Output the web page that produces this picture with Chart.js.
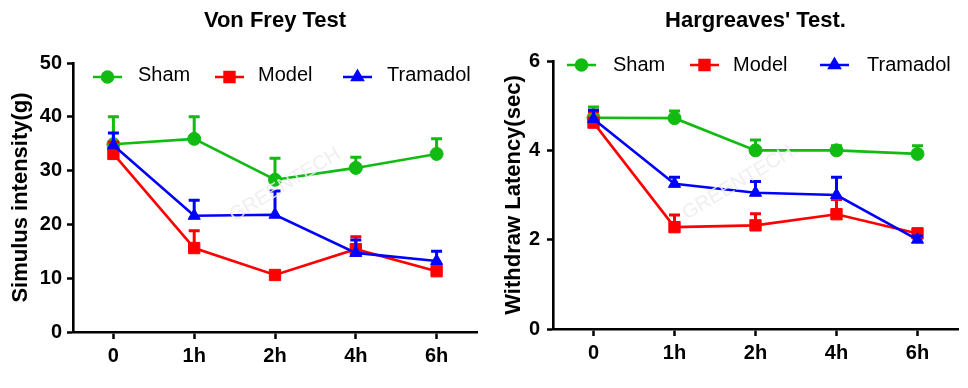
<!DOCTYPE html>
<html>
<head>
<meta charset="utf-8">
<script src="https://cdn.jsdelivr.net/npm/chart.js@4.4.1/dist/chart.umd.min.js"></script>
<style>
  html, body { margin: 0; padding: 0; background: #fff; }
  #wrap { position: relative; width: 968px; height: 388px; }
  #vonFrey { position: absolute; left: 0; top: 0; }
  #hargreaves { position: absolute; left: 490px; top: 0; }
</style>
</head>
<body>
<div id="wrap">
  <canvas id="vonFrey" width="490" height="388"></canvas>
  <canvas id="hargreaves" width="478" height="388"></canvas>
</div>
<script>
// categories
const timePoints = ["0", "1h", "2h", "4h", "6h"];
const groupNames = ["Sham", "Model", "Tramadol"];

// Von Frey test, mean and (upper) error
const vonFreySham = [34.9, 35.9, 28.3, 30.5, 33.1];
const vonFreyShamErr = [5.1, 4.1, 4.0, 2.0, 2.8];
const vonFreyModel = [33.1, 15.6, 10.6, 15.4, 11.3];
const vonFreyModelErr = [2.2, 3.2, 0.6, 2.3, 0.8];
const vonFreyTramadol = [34.7, 21.6, 21.8, 14.7, 13.2];
const vonFreyTramadolErr = [2.3, 2.9, 4.4, 2.4, 1.8];

// Hargreaves test
const hargShamData = [4.73, 4.72, 4.0, 4.0, 3.92];
const hargShamErr = [0.24, 0.16, 0.23, 0.1, 0.18];
const hargModelData = [4.62, 2.28, 2.32, 2.57, 2.14];
const hargModelErr = [0.25, 0.27, 0.26, 0.33, 0.1];
const hargTramadolData = [4.7, 3.25, 3.05, 3.0, 2.0];
const hargTramadolErr = [0.2, 0.15, 0.25, 0.4, 0.08];

const GREEN = "#11bb11";
const RED = "#ff0000";
const BLUE = "#0000ff";
const FONT = "'Liberation Sans', Arial, sans-serif";

const colors = [GREEN, RED, BLUE];
const markers = ["circle", "rect", "triangle"];
const markerSize = [6.5, 8, 7];

// upward error bars, drawn right after each dataset
const errorBarPlugin = {
  id: "errorBars",
  afterDatasetDraw(chart, args) {
    const ds = chart.data.datasets[args.index];
    if (!ds.errors) return;
    const yScale = chart.scales.y;
    const ctx = chart.ctx;
    ctx.save();
    ctx.strokeStyle = ds.borderColor;
    ctx.lineWidth = 3;
    args.meta.data.forEach((pt, i) => {
      const top = yScale.getPixelForValue(ds.data[i] + ds.errors[i]);
      ctx.beginPath();
      ctx.moveTo(pt.x, pt.y);
      ctx.lineTo(pt.x, top);
      ctx.moveTo(pt.x - 5.5, top);
      ctx.lineTo(pt.x + 5.5, top);
      ctx.stroke();
    });
    ctx.restore();
  },
};

const watermarkPlugin = {
  id: "watermark",
  afterDatasetsDraw(chart, args, opts) {
    const ctx = chart.ctx;
    ctx.save();
    ctx.translate(opts.x, opts.y);
    ctx.rotate((-31 * Math.PI) / 180);
    ctx.font = "20px " + FONT;
    ctx.fillStyle = "rgba(236,236,236,0.85)";
    ctx.textAlign = "center";
    ctx.textBaseline = "middle";
    ctx.fillText("GREENTECH", 0, 0);
    ctx.restore();
  },
};

const headerPlugin = {
  id: "header",
  afterDraw(chart, args, opts) {
    const ctx = chart.ctx;
    const area = chart.chartArea;
    ctx.save();
    ctx.font = "bold 22px " + FONT;
    ctx.fillStyle = "#000";
    ctx.textAlign = "center";
    ctx.textBaseline = "alphabetic";
    ctx.fillText(opts.text, (area.left + area.right) / 2, 27);

    // legend: line + marker + name
    ctx.font = "20px " + FONT;
    ctx.textAlign = "left";
    ctx.textBaseline = "middle";
    groupNames.forEach((name, i) => {
      const x0 = opts.lineX[i];
      ctx.strokeStyle = colors[i];
      ctx.fillStyle = colors[i];
      ctx.lineWidth = 2.5;
      ctx.beginPath();
      ctx.moveTo(x0, opts.lineY);
      ctx.lineTo(x0 + 29, opts.lineY);
      ctx.stroke();
      Chart.helpers.drawPoint(ctx, {
        pointStyle: markers[i],
        radius: markerSize[i] - 1,
        rotation: 0,
        borderWidth: 1,
      }, x0 + 14.5, opts.lineY);
      ctx.fillStyle = "#000";
      ctx.fillText(name, opts.textX[i], opts.textY);
    });
    ctx.restore();
  },
};

function makeDatasets(values, errors) {
  return groupNames.map((name, i) => ({
    label: name,
    data: values[i],
    errors: errors[i],
    borderColor: colors[i],
    backgroundColor: colors[i],
    borderWidth: 2.6,
    pointStyle: markers[i],
    pointRadius: markerSize[i],
    pointBorderWidth: 1,
    pointHoverRadius: markerSize[i],
    tension: 0,
    order: 2 - i,
  }));
}

function makeChart(id, cfg) {
  const tickFont = { family: FONT, size: 20, weight: "bold" };
  return new Chart(document.getElementById(id), {
    type: "line",
    data: {
      labels: timePoints,
      datasets: makeDatasets(cfg.values, cfg.errors),
    },
    options: {
      responsive: false,
      animation: false,
      events: [],
      layout: {
        padding: { left: 0, right: cfg.padRight, top: cfg.padTop, bottom: 0 },
      },
      plugins: {
        legend: { display: false },
        tooltip: { enabled: false },
        header: {
          text: cfg.title,
          lineX: cfg.lineX,
          textX: cfg.textX,
          lineY: cfg.lineY,
          textY: cfg.textY,
        },
        watermark: cfg.watermark,
      },
      scales: {
        x: {
          offset: true,
          grid: {
            offset: false,
            drawOnChartArea: false,
            drawTicks: true,
            tickLength: 7,
            tickWidth: 2.5,
            tickColor: "#000",
          },
          border: { display: true, color: "#000", width: 2.6 },
          ticks: { color: "#000", font: tickFont, padding: 5, maxRotation: 0 },
          afterFit(scale) {
            scale.height = cfg.xHeight;
          },
        },
        y: {
          min: 0,
          max: cfg.yMax,
          grid: {
            drawOnChartArea: false,
            drawTicks: true,
            tickLength: 6,
            tickWidth: 2.5,
            tickColor: "#000",
          },
          border: { display: true, color: "#000", width: 2.6 },
          ticks: {
            stepSize: cfg.yStep,
            color: "#000",
            font: tickFont,
            padding: cfg.yTickPad,
          },
          title: {
            display: true,
            text: cfg.yTitle,
            color: "#000",
            font: { family: FONT, size: 22, weight: "bold" },
            padding: { top: cfg.yTitlePad, bottom: 0 },
          },
          afterFit(scale) {
            scale.width = cfg.yWidth;
          },
        },
      },
    },
    plugins: [errorBarPlugin, watermarkPlugin, headerPlugin],
  });
}

makeChart("vonFrey", {
  title: "Von Frey Test",
  yTitle: "Simulus intensity(g)",
  values: [vonFreySham, vonFreyModel, vonFreyTramadol],
  errors: [vonFreyShamErr, vonFreyModelErr, vonFreyTramadolErr],
  yMax: 50,
  yStep: 10,
  yWidth: 73,
  xHeight: 56,
  padTop: 63,
  padRight: 13,
  yTickPad: 5,
  yTitlePad: 8,
  lineX: [93, 215, 343],
  textX: [138, 258, 387],
  lineY: 77,
  textY: 75,
  watermark: { x: 285, y: 185 },
});

makeChart("hargreaves", {
  title: "Hargreaves' Test.",
  yTitle: "Withdraw Latency(sec)",
  values: [hargShamData, hargModelData, hargTramadolData],
  errors: [hargShamErr, hargModelErr, hargTramadolErr],
  yMax: 6,
  yStep: 2,
  yWidth: 63,
  xHeight: 59,
  padTop: 61,
  padRight: 10,
  yTickPad: 7,
  yTitlePad: 11,
  lineX: [77, 200, 330],
  textX: [123, 243, 377],
  lineY: 65,
  textY: 65,
  watermark: { x: 248, y: 183 },
});
</script>
</body>
</html>
